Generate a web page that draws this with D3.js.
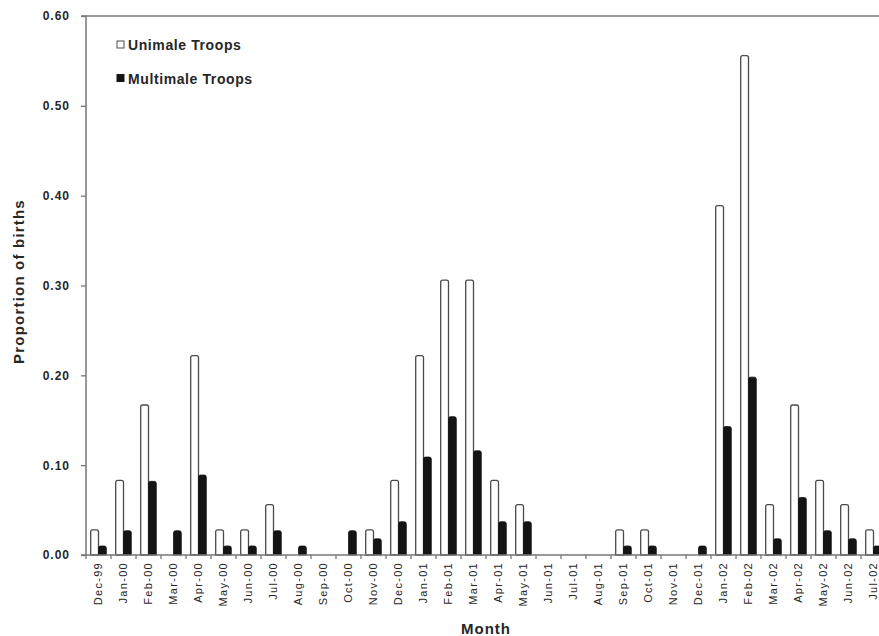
<!DOCTYPE html>
<html><head><meta charset="utf-8">
<script src="https://cdn.jsdelivr.net/npm/d3@7"></script>
<style>body{margin:0;background:#fff;} svg{display:block;font-family:"Liberation Sans",Arial,sans-serif;}</style>
</head><body>
<script>
const months = ["Dec-99","Jan-00","Feb-00","Mar-00","Apr-00","May-00","Jun-00","Jul-00","Aug-00","Sep-00","Oct-00","Nov-00","Dec-00","Jan-01","Feb-01","Mar-01","Apr-01","May-01","Jun-01","Jul-01","Aug-01","Sep-01","Oct-01","Nov-01","Dec-01","Jan-02","Feb-02","Mar-02","Apr-02","May-02","Jun-02","Jul-02"];
const unimale = [0.028,0.083,0.167,0,0.222,0.028,0.028,0.056,0,0,0,0.028,0.083,0.222,0.306,0.306,0.083,0.056,0,0,0,0.028,0.028,0,0,0.389,0.556,0.056,0.167,0.083,0.056,0.028];
const multimale = [0.010,0.027,0.082,0.027,0.089,0.010,0.010,0.027,0.010,0,0.027,0.018,0.037,0.109,0.154,0.116,0.037,0.037,0,0,0,0.010,0.010,0,0.010,0.143,0.198,0.018,0.064,0.027,0.018,0.010];
const yTicks = [0,0.1,0.2,0.3,0.4,0.5,0.6];
const seriesNames = ["Unimale Troops","Multimale Troops"];

const W=879,H=636;
const svg=d3.select("body").append("svg").attr("width",W).attr("height",H);
const plotL=86, plotT=16, plotB=555, bandW=25;
const x=d3.scaleBand().domain(months).range([plotL,plotL+bandW*months.length]).paddingInner(0).paddingOuter(0);
const y=d3.scaleLinear().domain([0,0.6]).range([plotB,plotT]);
const bw=7.8;
const axisCol="#777";
const txtCol="#262626";

function roundTop(x0,y0,w,h){
  const r=Math.min(2,h/2,w/2);
  return `M${x0},${y0+h}V${y0+r}Q${x0},${y0} ${x0+r},${y0}H${x0+w-r}Q${x0+w},${y0} ${x0+w},${y0+r}V${y0+h}Z`;
}

// bars
const g=svg.append("g");
months.forEach((m,i)=>{
  const cx=x(m)+x.bandwidth()/2;
  const u=unimale[i], mm=multimale[i];
  if(u>0){
    g.append("path").attr("d",roundTop(cx-bw,y(u),bw,plotB-y(u)))
      .attr("fill","#fff").attr("stroke","#4a4a4a").attr("stroke-width",1.3);
  }
  if(mm>0){
    g.append("path").attr("d",roundTop(cx,y(mm),bw,plotB-y(mm)))
      .attr("fill","#141414").attr("stroke","#141414").attr("stroke-width",0.8);
  }
});

// y axis
const ya=svg.append("g").attr("transform",`translate(${plotL},0)`)
  .call(d3.axisLeft(y).tickValues(yTicks).tickFormat(d3.format(".2f")).tickSize(5).tickPadding(11));
ya.select(".domain").attr("stroke",axisCol).attr("stroke-width",1.5).attr("d",`M-5,${plotT}H0V${plotB}H-5`);
ya.selectAll(".tick line").attr("stroke",axisCol).attr("stroke-width",1.3);
ya.selectAll(".tick text").attr("fill",txtCol).attr("font-size",12).attr("font-weight","bold")
  .attr("letter-spacing",1).attr("font-family","Liberation Sans, Arial, sans-serif");
// top border
svg.append("line").attr("x1",plotL).attr("x2",W).attr("y1",plotT).attr("y2",plotT).attr("stroke",axisCol).attr("stroke-width",1.5);

// x axis
const xa=svg.append("g").attr("transform",`translate(0,${plotB})`)
  .call(d3.axisBottom(x).tickSize(0).tickPadding(0));
xa.select(".domain").attr("stroke",axisCol).attr("stroke-width",1.5).attr("d",`M${plotL},0H${W}`);
xa.selectAll(".tick text").attr("fill",txtCol).attr("font-size",11).attr("letter-spacing",1.3)
  .attr("font-family","Liberation Sans, Arial, sans-serif")
  .attr("transform","rotate(-90)").attr("text-anchor","end").attr("dx","-7").attr("dy","0.35em").attr("y",0).attr("x",0);
// category boundary ticks
svg.append("g").selectAll("line").data(months).join("line")
  .attr("x1",d=>x(d)).attr("x2",d=>x(d)).attr("y1",plotB).attr("y2",plotB+4)
  .attr("stroke",axisCol).attr("stroke-width",1.3);

// titles
svg.append("text").attr("transform",`translate(24,${(200+363)/2}) rotate(-90)`).attr("text-anchor","middle")
  .attr("font-size",15).attr("font-weight","bold").attr("letter-spacing",1.2).attr("fill",txtCol).text("Proportion of births");
svg.append("text").attr("x",486).attr("y",634).attr("text-anchor","middle")
  .attr("font-size",15).attr("font-weight","bold").attr("letter-spacing",1).attr("fill",txtCol).text("Month");

// legend
const leg=svg.append("g");
const lg=[{n:seriesNames[0],fill:"#fff",stroke:"#4a4a4a",y:44.5},{n:seriesNames[1],fill:"#141414",stroke:"#141414",y:78}];
lg.forEach(d=>{
  leg.append("rect").attr("x",117).attr("y",d.y-3.5).attr("width",7).attr("height",7).attr("fill",d.fill).attr("stroke",d.stroke).attr("stroke-width",1);
  leg.append("text").attr("x",128).attr("y",d.y+5.5).attr("font-size",14).attr("font-weight","bold").attr("letter-spacing",0.6).attr("fill",txtCol).text(d.n);
});
</script>
</body></html>
